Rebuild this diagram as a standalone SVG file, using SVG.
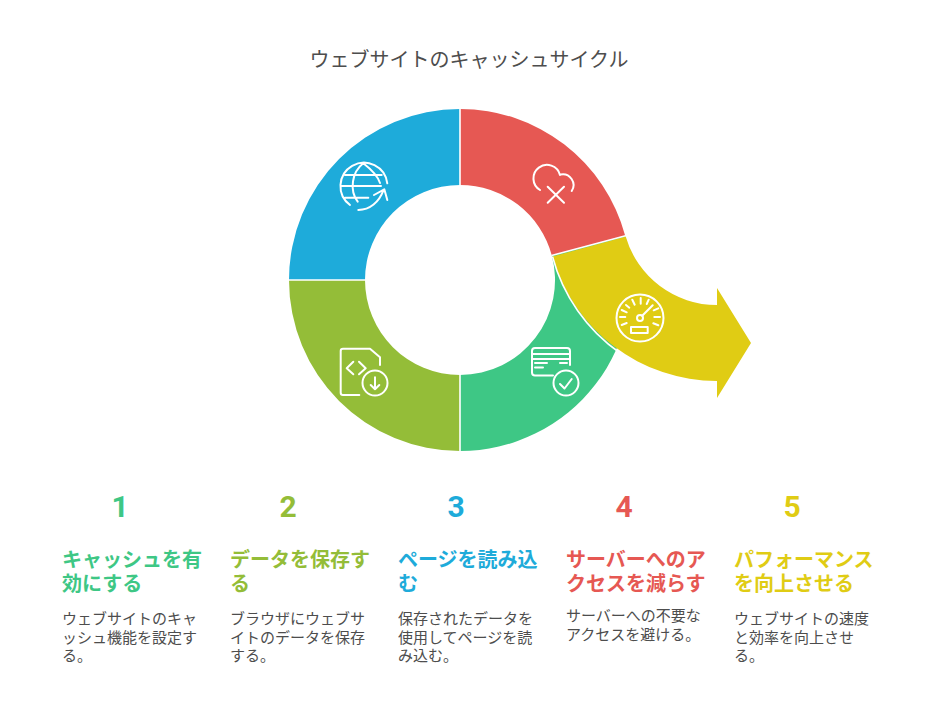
<svg xmlns="http://www.w3.org/2000/svg" width="936" height="716" viewBox="0 0 936 716">
<style>
text{font-family:"Noto Sans CJK JP","Noto Sans",sans-serif}
.title{font-size:20px;fill:#4d4d4d;text-anchor:middle}
.num{font-family:Roboto,"Noto Sans",sans-serif;font-size:30px;font-weight:700;text-anchor:middle}
.head{font-size:20px;font-weight:700}
.body{font-size:15px;fill:#4d4d4d}
.sep{fill:none;stroke:#fff;stroke-width:1.6}
.ic{fill:none;stroke:#fff;stroke-width:2;stroke-linecap:round;stroke-linejoin:round}
.g{fill:#3ec785}.l{fill:#94bd38}.b{fill:#1eabda}.r{fill:#e65853}.y{fill:#e0cc14}
</style>
<rect width="936" height="716" fill="#fff"/>
<text class="title" x="469" y="67">ウェブサイトのキャッシュサイクル</text>
<g id="segment-1">
<path class="g" d="M460 451A171 171 0 0 0 625.200 235.700L551.800 255.400A95 95 0 0 1 460 375Z"/>
<g class="ic"><path d="M553 375.500H535Q532 375.500 532 372.500V351Q532 348 535 348H567Q570 348 570 351V365M532 354H570M532 359H570M535 363H547M535 367.500H543M560 363H567"/><circle cx="566" cy="383" r="12.500"/><path d="M560 384L564.500 388.500L571.700 379"/></g>
</g>
<g id="segment-2">
<path class="l" d="M460 451A171 171 0 0 1 289 280H365A95 95 0 0 0 460 375Z"/>
<g class="ic"><path d="M359.300 395H343Q340.700 395 340.700 392.700V351Q340.700 348.700 343 348.700H370L380 357.300V365M353.300 361.700L346.700 368.300L353.300 374.300M359 361.700L365.700 368.300L359 374.300"/><circle cx="375" cy="383" r="12.500"/><path d="M375 377.300V389.300M370.700 385L375 389.300L379.300 385"/></g>
</g>
<g id="segment-3">
<path class="b" d="M289 280A171 171 0 0 1 460 109V185A95 95 0 0 0 365 280Z"/>
<g class="ic"><path d="M350 205A23.500 23.500 0 1 1 387.300 183.300M358.300 210C370 210 379 202 383.300 190.700M374 195L384.300 189.300L387.300 200M363.300 163.300C352 172 349 190 357.700 201.700M363.300 163.300C372 170 378 177 380 183M345 175H381.700M341 186H381M345 197.700H368.300"/></g>
</g>
<g id="segment-4">
<path class="r" d="M460 109A171 171 0 0 1 625.200 235.700L551.800 255.400A95 95 0 0 0 460 185Z"/>
<g class="ic"><path d="M540 190A13.500 13.500 0 1 1 560 175M560.500 174.500A10.800 10.800 0 0 1 571.700 191M547.700 186.700L564 202.700M564 186.700L547.700 202.700"/></g>
</g>
<g id="segment-5">
<path class="y" d="M552.500 256.500L625.700 236.500A95 95 0 0 0 717 305V288L751 343L717 398V381A171 171 0 0 1 552.500 256.500Z"/>
<g class="ic"><circle cx="640" cy="318" r="23.500"/><circle cx="640" cy="318" r="3"/><path d="M642.200 315.800L652.700 305.300M631 327H647.700V333H631ZM621.700 325L626.700 323M620 317H625.300M621.700 310L626.700 312.300M626 305L629.300 307.700M632.300 299.700L634.700 304.700M640.700 298V303.700M648.700 299.700L646.700 304M653.700 310.300L658.300 308.300M654.300 317H660M653.300 323.300L658.300 325.300"/></g>
</g>
<g id="connectors">
<path class="sep" d="M460 108V185M460 375V452M288 280H365M551.500 255.500L626.500 235.500M552.500 256.500A171 171 0 0 0 620 353"/>
</g>
<g id="step-1">
<text class="num g" x="120" y="517">1</text>
<text class="head g" x="62" y="567">キャッシュを有</text><text class="head g" x="62" y="591">効にする</text>
<text class="body" x="62" y="624">ウェブサイトのキャ</text><text class="body" x="62" y="643">ッシュ機能を設定す</text><text class="body" x="62" y="661">る。</text>
</g>
<g id="step-2">
<text class="num l" x="288" y="517">2</text>
<text class="head l" x="230" y="567">データを保存す</text><text class="head l" x="230" y="591">る</text>
<text class="body" x="230" y="624">ブラウザにウェブサ</text><text class="body" x="230" y="643">イトのデータを保存</text><text class="body" x="230" y="661">する。</text>
</g>
<g id="step-3">
<text class="num b" x="456" y="517">3</text>
<text class="head b" x="398" y="567">ページを読み込</text><text class="head b" x="398" y="591">む</text>
<text class="body" x="398" y="624">保存されたデータを</text><text class="body" x="398" y="643">使用してページを読</text><text class="body" x="398" y="661">み込む。</text>
</g>
<g id="step-4">
<text class="num r" x="624" y="517">4</text>
<text class="head r" x="566" y="567">サーバーへのア</text><text class="head r" x="566" y="591">クセスを減らす</text>
<text class="body" x="566" y="621">サーバーへの不要な</text><text class="body" x="566" y="640">アクセスを避ける。</text>
</g>
<g id="step-5">
<text class="num y" x="792" y="517">5</text>
<text class="head y" x="734" y="567">パフォーマンス</text><text class="head y" x="734" y="591">を向上させる</text>
<text class="body" x="734" y="624">ウェブサイトの速度</text><text class="body" x="734" y="643">と効率を向上させ</text><text class="body" x="734" y="661">る。</text>
</g>
</svg>
